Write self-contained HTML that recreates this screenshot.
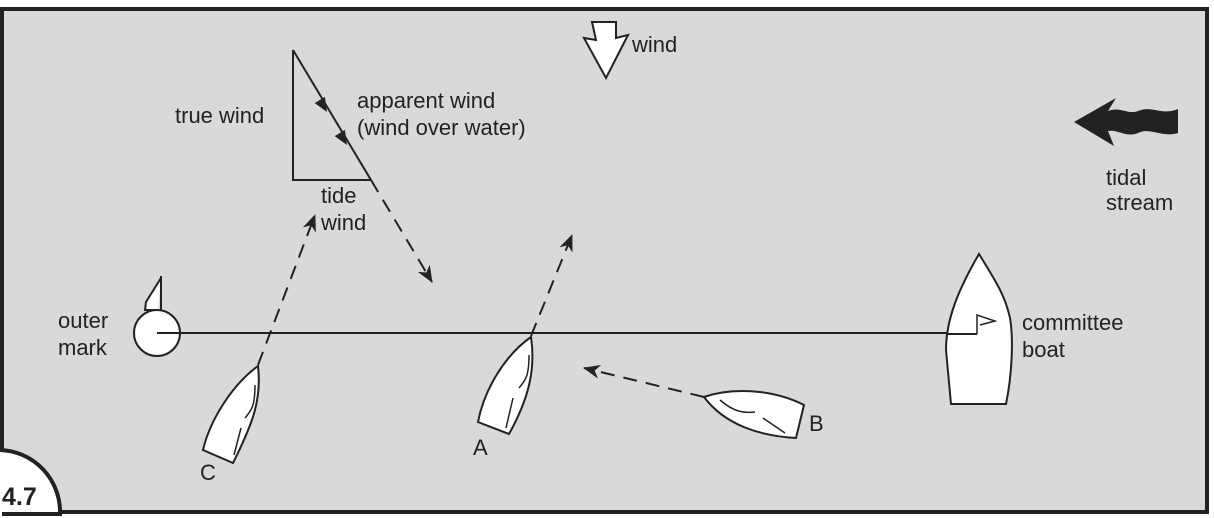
<!DOCTYPE html>
<html><head><meta charset="utf-8"><style>
html,body{margin:0;padding:0;background:#fff;}
svg{display:block;}
text{font-family:"Liberation Sans",sans-serif;font-size:22px;fill:#222;}
</style></head><body>
<svg width="1214" height="518" viewBox="0 0 1214 518" xmlns="http://www.w3.org/2000/svg">
<defs>
<marker id="ah2" markerWidth="18" markerHeight="14" refX="16" refY="7" orient="auto" markerUnits="userSpaceOnUse">
<path d="M0,0 L17,7 L0,14 L5,7 Z" fill="#222"/>
</marker>
</defs>
<rect x="0" y="0" width="1214" height="518" fill="#fff"/>
<rect x="2" y="9" width="1205" height="503" fill="#d9d9d9" stroke="#222" stroke-width="4"/>
<path d="M0,450 A62,62 0 0 1 60,514 L0,514 Z" fill="#fff" stroke="#222" stroke-width="4"/>
<rect x="0" y="452" width="2" height="66" fill="#fff"/>
<text x="2" y="505" style="font-size:25px;font-weight:bold">4.7</text>

<!-- wind arrow -->
<path d="M592,22 L616,22 L616,38 L628,35 L606,78 L584,38 L596,40 Z" fill="#fff" stroke="#222" stroke-width="2"/>
<text x="632" y="52">wind</text>

<!-- triangle -->
<path d="M293,50 L293,180 L371,180" fill="none" stroke="#222" stroke-width="2"/>
<line x1="293" y1="50" x2="371" y2="180" stroke="#222" stroke-width="2"/>
<polygon points="327,112 324.9,96.9 314.7,103.1" fill="#222"/>
<polygon points="347,145 344.9,129.9 334.7,136.1" fill="#222"/>
<line x1="371" y1="180" x2="432" y2="282" stroke="#222" stroke-width="2" stroke-dasharray="14,9" marker-end="url(#ah2)"/>
<text x="175" y="123">true wind</text>
<text x="357" y="108">apparent wind</text>
<text x="357" y="135">(wind over water)</text>
<text x="321" y="203">tide</text>
<text x="321" y="230">wind</text>

<!-- start line -->
<line x1="160" y1="333" x2="976" y2="333" stroke="#222" stroke-width="2"/>
<circle cx="157" cy="333" r="23" fill="#fff" stroke="#222" stroke-width="2"/>
<line x1="157" y1="333" x2="182" y2="333" stroke="#222" stroke-width="2"/>
<path d="M161,276 L161,310 M161,278 L146,302 L145,310 L158,310" fill="#fff" stroke="#222" stroke-width="2"/>
<text x="58" y="328">outer</text>
<text x="58" y="355">mark</text>

<!-- dashed courses -->
<line x1="258" y1="365" x2="315" y2="215" stroke="#222" stroke-width="2" stroke-dasharray="14,9" marker-end="url(#ah2)"/>
<line x1="531" y1="336" x2="572" y2="235" stroke="#222" stroke-width="2" stroke-dasharray="14,9" marker-end="url(#ah2)"/>
<line x1="704" y1="397" x2="584" y2="368" stroke="#222" stroke-width="2" stroke-dasharray="14,9" marker-end="url(#ah2)"/>

<!-- boat C -->
<path d="M258,366 C232,385 210,420 203,450 L233,463 C252,425 262,400 258,366 Z" fill="#fff" stroke="#222" stroke-width="2"/>
<path d="M255,385 C255,405 252,410 245,418 M241,428 L234,455" fill="none" stroke="#222" stroke-width="1.5"/>
<text x="200" y="480">C</text>
<!-- boat A -->
<path d="M531,337 C505,355 484,390 478,422 L509,434 C528,400 536,370 531,337 Z" fill="#fff" stroke="#222" stroke-width="2"/>
<path d="M529,355 C529,375 526,380 519,388 M513,398 L506,428" fill="none" stroke="#222" stroke-width="1.5"/>
<text x="473" y="455">A</text>
<!-- boat B -->
<path d="M704,397 C730,388 770,388 804,405 L796,438 C760,436 725,425 704,397 Z" fill="#fff" stroke="#222" stroke-width="2"/>
<path d="M720,400 C735,413 745,413 755,412 M763,418 L785,433" fill="none" stroke="#222" stroke-width="1.5"/>
<text x="809" y="431">B</text>

<!-- committee boat -->
<path d="M979,254 C958,290 946,320 946,350 L951,404 L1006,404 C1013,370 1013,335 1010,318 C1005,295 995,280 979,254 Z" fill="#fff" stroke="#222" stroke-width="2"/>
<line x1="946" y1="334" x2="977" y2="334" stroke="#222" stroke-width="2"/>
<path d="M977,334 L977,315 L995,321 L980,325" fill="#fff" stroke="#222" stroke-width="1.5"/>
<text x="1022" y="330">committee</text>
<text x="1022" y="357">boat</text>

<!-- tidal stream -->
<path d="M1074,122 L1116,98 L1108,111 C1120,106 1128,115 1138,111 C1152,105 1162,116 1178,109 L1178,133 C1162,138 1150,127 1138,133 C1126,138 1118,129 1108,131 L1114,146 Z" fill="#222"/>
<text x="1106" y="185">tidal</text>
<text x="1106" y="210">stream</text>
</svg>
</body></html>
